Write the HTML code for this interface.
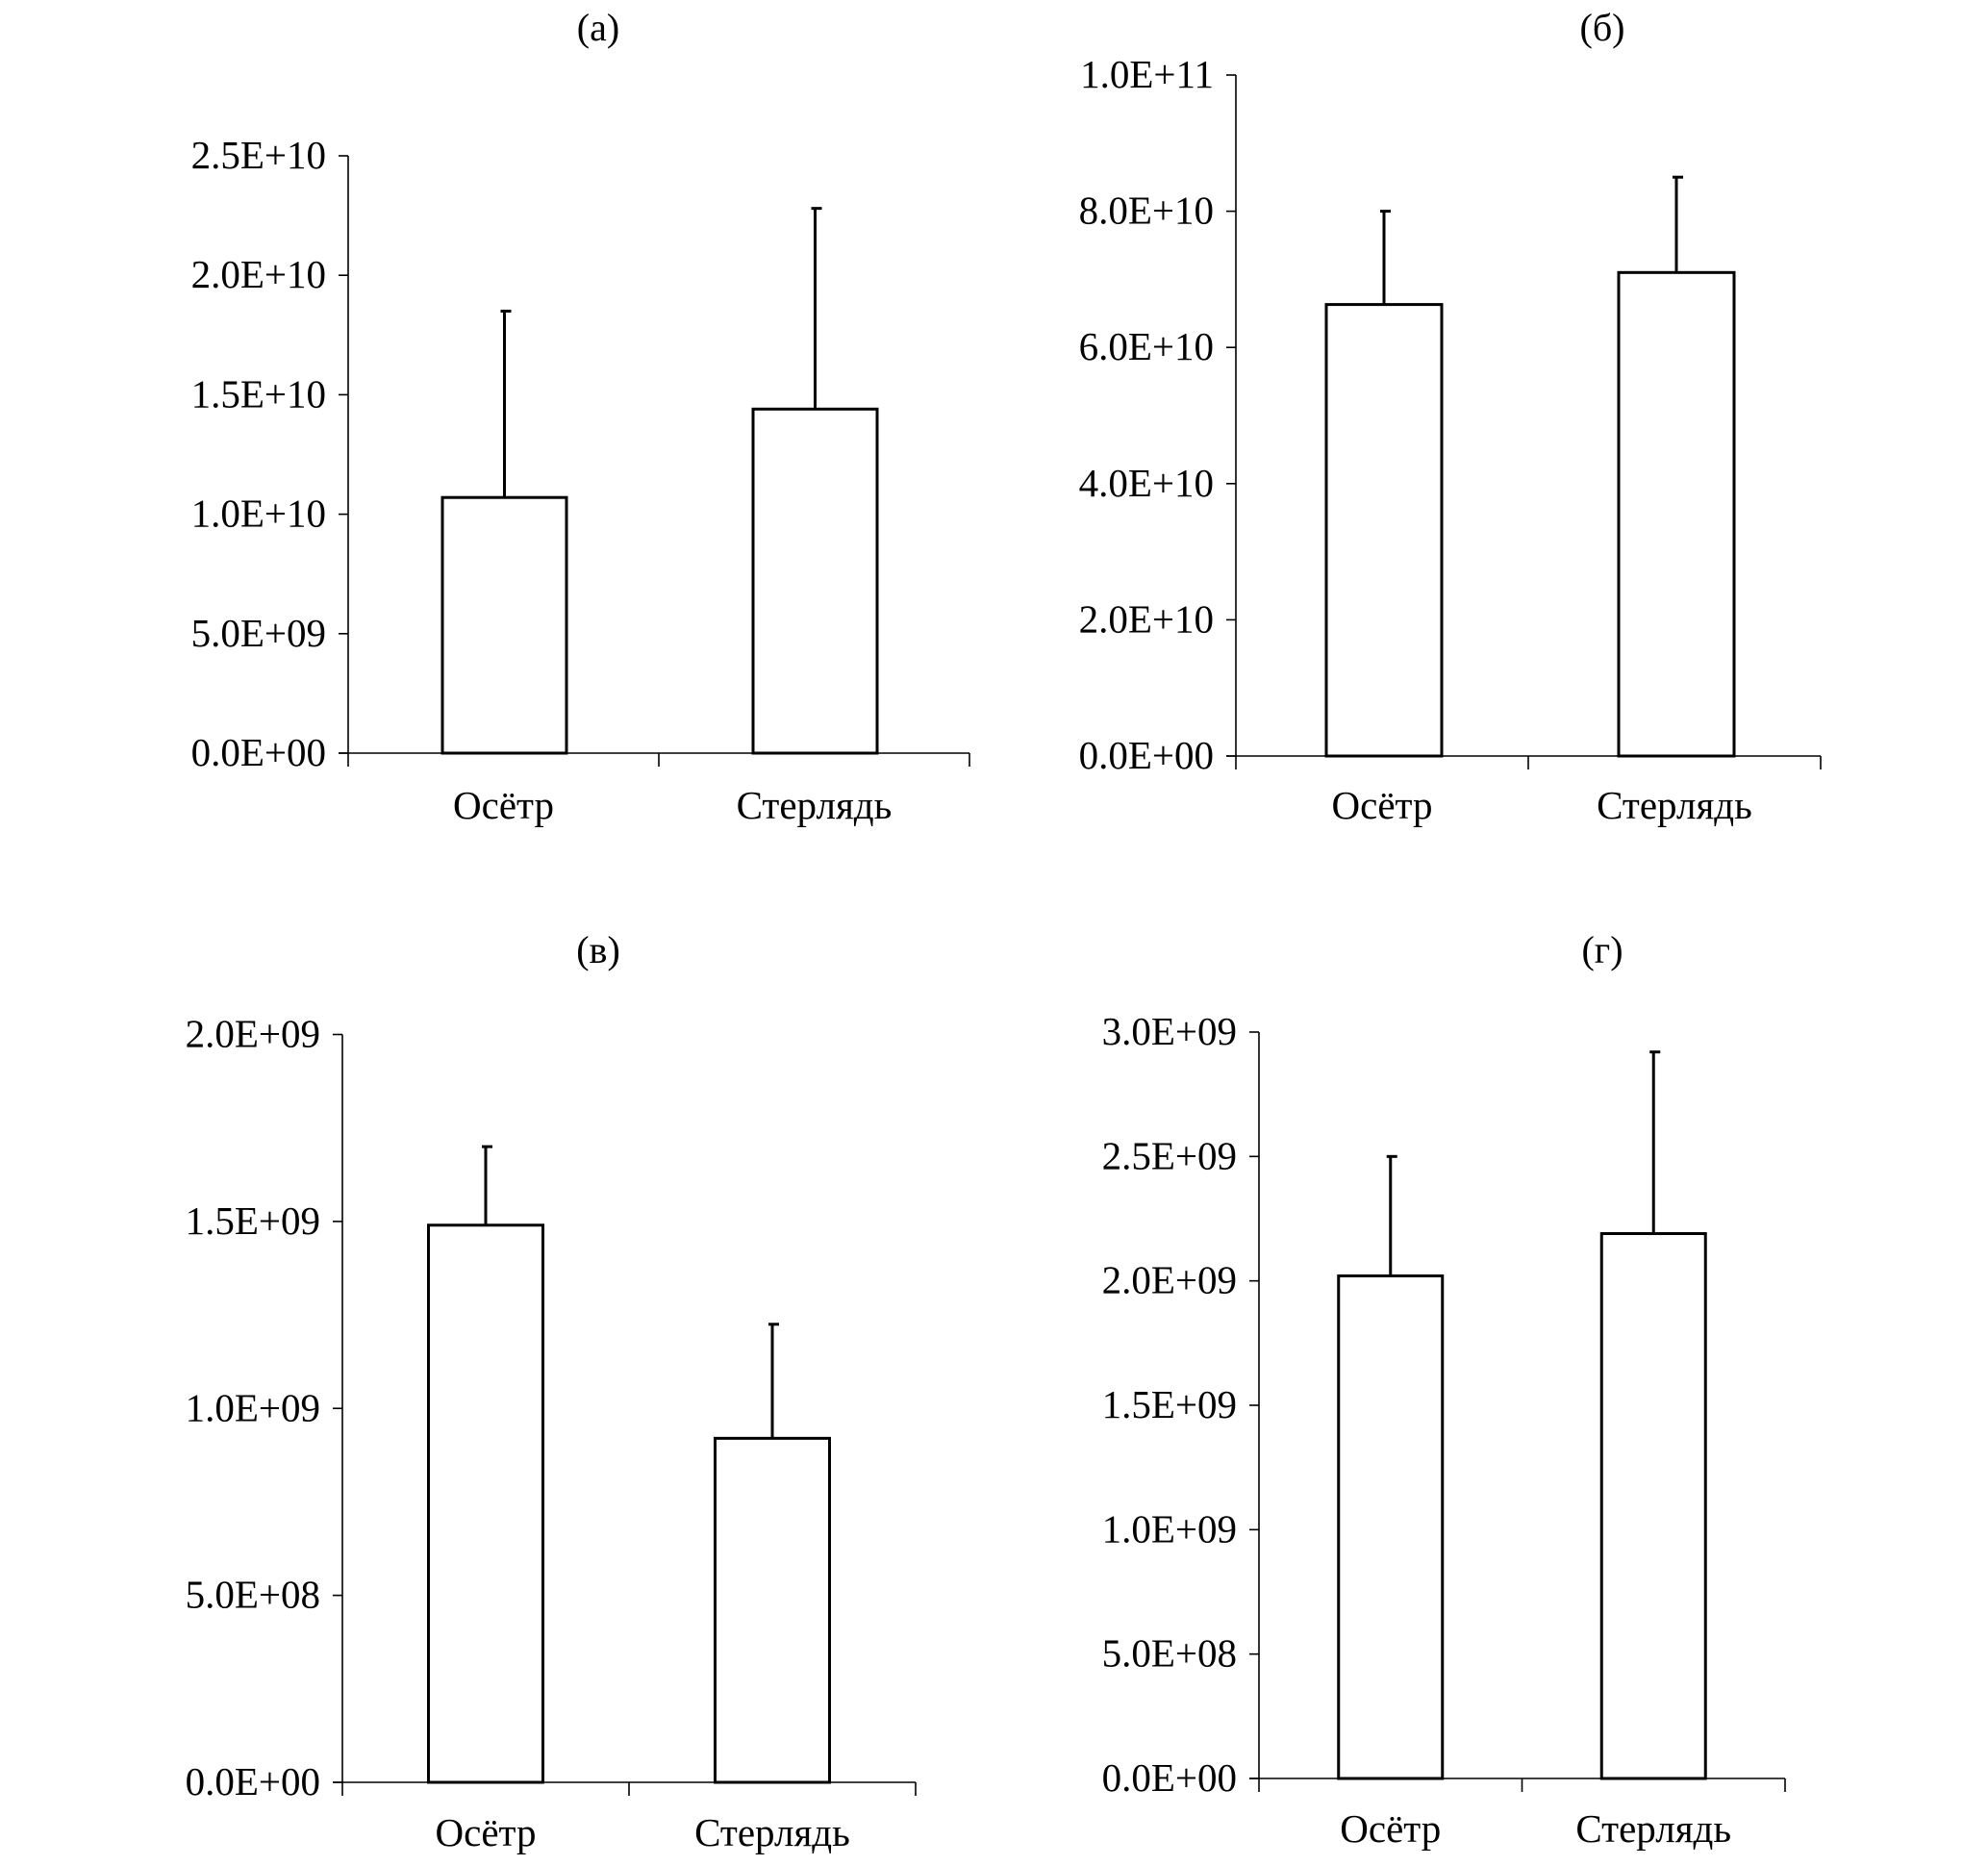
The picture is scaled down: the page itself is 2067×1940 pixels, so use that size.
<!DOCTYPE html>
<html><head><meta charset="utf-8"><style>
html,body{margin:0;padding:0;background:#fff}
svg{display:block}
text{font-family:"Liberation Serif",serif;fill:#000}
</style></head><body>
<svg id="fig" width="2067" height="1940" viewBox="0 0 2067 1940" xmlns="http://www.w3.org/2000/svg"></svg>
<script>
const categories = ["Осётр", "Стерлядь"];
const valuesA = [1.07e10, 1.44e10];
const errTopA = [1.85e10, 2.28e10];
const ticksA = [0, 5e9, 1e10, 1.5e10, 2e10, 2.5e10];
const tickLabelsA = ["0.0E+00","5.0E+09","1.0E+10","1.5E+10","2.0E+10","2.5E+10"];
const valuesB = [6.63e10, 7.1e10];
const errTopB = [8.0e10, 8.5e10];
const ticksB = [0, 2e10, 4e10, 6e10, 8e10, 1e11];
const tickLabelsB = ["0.0E+00","2.0E+10","4.0E+10","6.0E+10","8.0E+10","1.0E+11"];
const valuesC = [1.49e9, 0.92e9];
const errTopC = [1.70e9, 1.225e9];
const ticksC = [0, 5e8, 1e9, 1.5e9, 2e9];
const tickLabelsC = ["0.0E+00","5.0E+08","1.0E+09","1.5E+09","2.0E+09"];
const valuesD = [2.02e9, 2.19e9];
const errTopD = [2.5e9, 2.92e9];
const ticksD = [0, 5e8, 1e9, 1.5e9, 2e9, 2.5e9, 3e9];
const tickLabelsD = ["0.0E+00","5.0E+08","1.0E+09","1.5E+09","2.0E+09","2.5E+09","3.0E+09"];

const NS = "http://www.w3.org/2000/svg";
const svg = document.getElementById("fig");
function mk(tag, attrs, parent){
  const e = document.createElementNS(NS, tag);
  for (const k in attrs) e.setAttribute(k, attrs[k]);
  parent.appendChild(e);
  return e;
}
function panel(id, title, titleX, titleY, ax, ay0, ayTop, axEnd, barW, barOff, labY, vals, errs, ticks, tlabels){
  const g = mk("g", {}, svg);
  
  
  const maxV = ticks[ticks.length-1];
  const y = v => ay0 - (v / maxV) * (ay0 - ayTop);
  const band = (axEnd - ax) / categories.length;
  const xc = i => ax + band * (i + 0.5) + barOff;
  const t = mk("text", {x:titleX, y:titleY, "font-size":40, "text-anchor":"middle"}, g);
  t.textContent = title;
  
  
  const yax = mk("line", {x1:ax, y1:ayTop, x2:ax, y2:ay0+14, stroke:"#000", "stroke-width":1.6}, g);
  
  
  const xax = mk("line", {x1:ax-10, y1:ay0, x2:axEnd, y2:ay0, stroke:"#000", "stroke-width":1.6}, g);
  
  
  for (let i = 1; i <= categories.length; i++) {
    const tx = ax + band * i;
    const tk = mk("line", {x1:tx, y1:ay0, x2:tx, y2:ay0+14, stroke:"#000", "stroke-width":1.6}, g);
    
    
  }
  ticks.forEach((v, i) => {
    const yy = y(v);
    const tk = mk("line", {x1:ax-10, y1:yy, x2:ax, y2:yy, stroke:"#000", "stroke-width":1.6}, g);
    
    
    const tl = mk("text", {x:ax-23, y:yy+13, "font-size":41, "text-anchor":"end"}, g);
    tl.textContent = tlabels[i];
    
    
  });
  vals.forEach((v, i) => {
    const cx = xc(i);
    const ey = y(errs[i]);
    const el = mk("line", {x1:cx, y1:y(v), x2:cx, y2:ey, stroke:"#000", "stroke-width":3}, g);
    
    
    const cap = mk("line", {x1:cx-4, y1:ey, x2:cx+7, y2:ey, stroke:"#000", "stroke-width":3}, g);
    
    
    const b = mk("rect", {x:cx-barW/2, y:y(v), width:barW, height:ay0-y(v), fill:"#fff", stroke:"#000", "stroke-width":3}, g);
    
    
    const lb = mk("text", {x:ax + band*(i+0.5), y:labY, "font-size":41, "text-anchor":"middle"}, g);
    lb.textContent = categories[i];
    
    
  });
}
panel("a", "(a)", 622, 42, 362, 783, 162, 1008, 129, 1, 851, valuesA, errTopA, ticksA, tickLabelsA);
panel("b", "(б)", 1666, 42, 1285, 786, 78, 1893, 120, 2, 851, valuesB, errTopB, ticksB, tickLabelsB);
panel("c", "(в)", 622, 1001, 356, 1853, 1075.5, 952, 119, 0, 1919, valuesC, errTopC, ticksC, tickLabelsC);
panel("d", "(г)", 1666, 1001, 1309, 1849, 1073, 1856, 108, 0, 1915, valuesD, errTopD, ticksD, tickLabelsD);
</script>
</body></html>
